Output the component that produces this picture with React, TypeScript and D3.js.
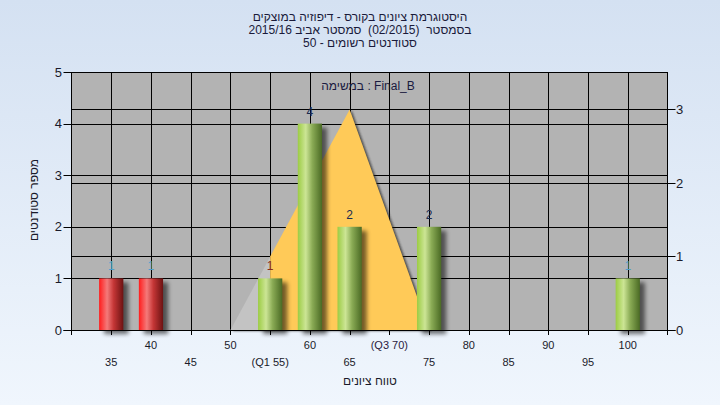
import React from "react";
import * as d3 from "d3";

const categories = [35, 40, 45, 50, 55, 60, 65, 70, 75, 80, 85, 90, 95, 100];
const counts = [1, 1, 0, 0, 1, 4, 2, 0, 2, 0, 0, 0, 0, 1];
const tickLabels = ["35", "40", "45", "50", "(Q1 55)", "60", "65", "(Q3 70)", "75", "80", "85", "90", "95", "100"];
const failBelow = 50;
const curveX = [50, 55, 60, 65, 70, 75];
const curveY = [0, 1, 2, 3, 1.5, 0];
const q1 = 55;
const leftTicks = [0, 1, 2, 3, 4, 5];
const rightTicks = [0, 1, 2, 3];
const titleLines = [
  "היסטוגרמת ציונים בקורס - דיפוזיה במוצקים",
  "בסמסטר  (02/2015)  סמסטר אביב 2015/16",
  "סטודנטים רשומים - 50",
];
const legendText = "במשימה : Final_B";
const xTitle = "טווח ציונים";
const yTitle = "מספר סטודנטים";

const W = 720, H = 405;
const L = 71.5, R = 667.5, T = 72, B = 330;
const font = "'Liberation Sans', 'DejaVu Sans', Arial, sans-serif";

export default function App() {
  const x = d3.scaleLinear().domain([30, 105]).range([L, R]);
  const y = d3.scaleLinear().domain([0, 5]).range([B, T]);
  const yR = d3.scaleLinear().domain([0, 3.51]).range([B, T]);
  const band = x(35) - x(30);
  const bw = band * 0.61;
  const gridX = d3.range(35, 101, 5);

  const pts = curveX.map((v, i) => [v, curveY[i]] as [number, number]);
  const area = d3.area<[number, number]>().x(d => x(d[0])).y0(B).y1(d => yR(d[1]));
  const lowPts = pts.filter(p => p[0] <= q1);
  const highPts = pts.filter(p => p[0] >= q1);

  return (
    <div style={{ position: "fixed", left: 0, top: 0 }}>
      <svg width={W} height={H} style={{ display: "block", fontFamily: font }}>
        <defs>
          <linearGradient id="bg" x1="0" y1="0" x2="0" y2="1">
            <stop offset="0%" stopColor="#d4e1f2" />
            <stop offset="100%" stopColor="#f0f6fd" />
          </linearGradient>
          <linearGradient id="red" x1="0" y1="0" x2="1" y2="0">
            <stop offset="0%" stopColor="#ff1c1c" />
            <stop offset="33%" stopColor="#f47a7a" />
            <stop offset="60%" stopColor="#c43636" />
            <stop offset="100%" stopColor="#6c1212" />
          </linearGradient>
          <linearGradient id="green" x1="0" y1="0" x2="1" y2="0">
            <stop offset="0%" stopColor="#9ccc44" />
            <stop offset="33%" stopColor="#cce595" />
            <stop offset="60%" stopColor="#8aab55" />
            <stop offset="100%" stopColor="#4a6a24" />
          </linearGradient>
          <filter id="blur" x="-50%" y="-50%" width="200%" height="200%">
            <feGaussianBlur stdDeviation="2" />
          </filter>
          <filter id="blur1" x="-20%" y="-20%" width="140%" height="140%">
            <feGaussianBlur stdDeviation="0.8" />
          </filter>
        </defs>
        <rect x={0} y={0} width={W} height={H} fill="url(#bg)" />

        {/* title */}
        {titleLines.map((t, i) => (
          <text key={i} x={360} y={21 + i * 13} textAnchor="middle" direction="rtl" fontSize={12} fill="#1a1a3a"
            style={{ whiteSpace: "pre" }}>{t}</text>
        ))}

        {/* plot area */}
        <rect x={L} y={T} width={R - L} height={B - T} fill="#b3b3b3" />

        {/* grid */}
        {gridX.map(v => (
          <line key={"gx" + v} x1={Math.round(x(v)) + 0.5} x2={Math.round(x(v)) + 0.5} y1={T} y2={B} stroke="#000" strokeWidth={1} />
        ))}
        {leftTicks.slice(1).map(v => (
          <line key={"gy" + v} x1={L} x2={R} y1={Math.round(y(v)) + 0.5} y2={Math.round(y(v)) + 0.5} stroke="#000" strokeWidth={1} />
        ))}
        {rightTicks.slice(1).map(v => (
          <line key={"gr" + v} x1={L} x2={R} y1={Math.round(yR(v)) + 0.5} y2={Math.round(yR(v)) + 0.5} stroke="#000" strokeWidth={1} />
        ))}

        {/* distribution area */}
        <path d={area(pts) || ""} transform="translate(2,1)" fill="#222" opacity={0.7} filter="url(#blur1)" />
        <path d={area(lowPts) || ""} fill="#c3c3c3" />
        <path d={area(highPts) || ""} fill="#ffca58" />

        {/* legend text */}
        <text x={368} y={90} textAnchor="middle" fontSize={12} fill="#1a1a40">{legendText}</text>

        {/* bars */}
        {categories.map((c, i) => counts[i] > 0 ? (
          <rect key={"s" + c} x={x(c) - bw / 2 + 5} y={y(counts[i]) + 4} width={bw} height={B - y(counts[i])}
            fill="#000" opacity={0.55} filter="url(#blur)" />
        ) : null)}
        {categories.map((c, i) => counts[i] > 0 ? (
          <rect key={"b" + c} x={x(c) - bw / 2} y={y(counts[i])} width={bw} height={B - y(counts[i])}
            fill={c < failBelow ? "url(#red)" : "url(#green)"} />
        ) : null)}
        {categories.map((c, i) => counts[i] > 0 ? (
          <text key={"l" + c} x={x(c)} y={y(counts[i]) - 8} textAnchor="middle" fontSize={12}
            fill={counts[i] === 1 ? (c === q1 ? "#8a2a1a" : "#4d9fcc") : "#1a2a50"}>{counts[i]}</text>
        ) : null)}

        {/* plot border / axes */}
        <line x1={L} x2={R} y1={T + 0.5} y2={T + 0.5} stroke="#000" />
        <line x1={R} x2={R} y1={T} y2={B + 5} stroke="#000" />
        <line x1={L} x2={L} y1={T} y2={B + 5} stroke="#000" />
        <line x1={L - 8} x2={R + 8} y1={B + 0.5} y2={B + 0.5} stroke="#000" />

        {/* left axis */}
        {leftTicks.map(v => (
          <g key={"lt" + v}>
            <line x1={L - 8} x2={L} y1={Math.round(y(v)) + 0.5} y2={Math.round(y(v)) + 0.5} stroke="#000" />
            <text x={62} y={y(v)} dy="0.35em" textAnchor="end" fontSize={13} fill="#1a1a2a">{v}</text>
          </g>
        ))}
        {/* right axis */}
        {rightTicks.map(v => (
          <g key={"rt" + v}>
            <line x1={R} x2={R + 8} y1={Math.round(yR(v)) + 0.5} y2={Math.round(yR(v)) + 0.5} stroke="#000" />
            <text x={676} y={yR(v)} dy="0.35em" textAnchor="start" fontSize={13} fill="#1a1a2a">{v}</text>
          </g>
        ))}
        {/* bottom axis */}
        {gridX.map(v => (
          <line key={"bt" + v} x1={Math.round(x(v)) + 0.5} x2={Math.round(x(v)) + 0.5} y1={B} y2={B + 5} stroke="#000" />
        ))}
        {categories.map((c, i) => (
          <text key={"xl" + c} x={x(c)} y={i % 2 === 0 ? 366 : 349} textAnchor="middle" fontSize={11}
            fill={i === 7 ? "#2a1a40" : "#1a1a2a"}>{tickLabels[i]}</text>
        ))}

        {/* axis titles */}
        <text x={370} y={385} textAnchor="middle" direction="rtl" fontSize={12} fill="#1a1a2a">{xTitle}</text>
        <text transform="translate(38,200) rotate(-90)" textAnchor="middle" direction="rtl" fontSize={12} fill="#1a1a2a">{yTitle}</text>
      </svg>
    </div>
  );
}
